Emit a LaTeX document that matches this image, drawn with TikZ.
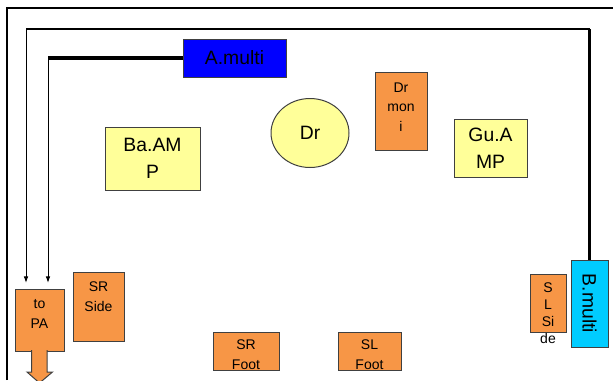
\documentclass[tikz,border=0pt]{standalone}
\usepackage{fontspec}
\setmainfont{Liberation Sans}
\usepackage{graphicx}
\usepackage{tikz}
\usetikzlibrary{arrows.meta}
\usetikzlibrary{shapes.geometric}
\tikzset{every picture/.style={line width=0.75pt}}

\definecolor{ampyellow}{RGB}{255,255,153}
\definecolor{spkorange}{RGB}{247,150,70}
\definecolor{multiblue}{RGB}{0,0,255}
\definecolor{multicyan}{RGB}{0,204,255}
\newcommand{\bigtxt}{\fontsize{14.5}{20}\selectfont}
\newcommand{\smalltxt}{\fontsize{10.5}{14.5}\selectfont}

\tikzset{
  stagebox/.style={draw=black!75, inner sep=0pt, outer sep=0pt, align=center, font=\bigtxt},
  amp/.style={stagebox, fill=ampyellow},
  spk/.style={stagebox, fill=spkorange},
  spktext/.style={anchor=north, align=center, inner xsep=0pt, outer sep=0pt, font=\smalltxt},
  cable/.style={line width=2.6pt},
  wire/.style={-{Latex[length=5pt,width=3.5pt]}, shorten >=4.5pt}
}

\begin{document}
\begin{tikzpicture}[x=0.75pt,y=0.75pt,yscale=-1,xscale=1]
\useasboundingbox (0,0) rectangle (613,380);

%Straight Lines [stage frame]
\draw [line width=1.1pt] (7,380) -- (7,8) -- (613,8) ;

%Shape: Rectangle [A.multi]
\node [stagebox, fill=multiblue, minimum width=77.25pt, minimum height=28.5pt] (amulti) at (234.5,58) {A.multi};
%Shape: Rectangle [B.multi]
\node [stagebox, fill=multicyan, minimum width=27.75pt, minimum height=65.25pt] (bmulti) at (589.5,303.5) {\rotatebox{-90}{B.multi}};
%Shape: Rectangle [Ba.AMP]
\node [amp, minimum width=71.25pt, minimum height=47.25pt] (baamp) at (152.5,158.5) {Ba.AM\\P};
%Shape: Rectangle [Gu.AMP]
\node [amp, minimum width=54.75pt, minimum height=43.5pt] (guamp) at (490.5,148) {Gu.A\\MP};
%Shape: Ellipse [Dr]
\node [amp, ellipse, minimum width=58.5pt, minimum height=51.75pt] (dr) at (310,133) {Dr};
%Shape: Rectangle [Dr moni]
\node [spk, minimum width=39pt, minimum height=58.5pt] (drmoni) at (401,111) {};
%Shape: Rectangle [SR Side]
\node [spk, minimum width=38.25pt, minimum height=51.75pt] (srside) at (98.5,306.5) {};
%Shape: Rectangle [SL Side]
\node [spk, minimum width=27pt, minimum height=43.5pt] (slside) at (548,303) {};
%Shape: Rectangle [SR Foot]
\node [spk, minimum width=49.5pt, minimum height=28.5pt] (srfoot) at (246,351) {};
%Shape: Rectangle [SL Foot]
\node [spk, minimum width=47.25pt, minimum height=28.5pt] (slfoot) at (369.5,351) {};
%Shape: Rectangle [to PA]
\node [spk, minimum width=36.75pt, minimum height=46.5pt] (topa) at (39.5,320) {};
%Shape: Down Arrow
\filldraw [draw=black!75, fill=spkorange] (31.5,350) -- (31.5,372) -- (27,372) -- (39.5,383) -- (52.5,372) -- (47,372) -- (47,350) ;

%Cables
\coordinate (aturn) at (48,58);
\coordinate (bturn) at (588,29);
\coordinate (pturn) at (26,29);
\draw [cable] (amulti.west) -- (aturn) ;
\draw [wire] (aturn) -- (aturn |- topa.north) ;
\draw [cable] (bmulti.north) -- (bmulti.north |- bturn) ;
\draw [line width=1.5pt] (bmulti.north |- bturn) -- (pturn) ;
\draw [wire] (pturn) -- (pturn |- topa.north) ;

% Text Node
\node [spktext, inner ysep=8.25pt] (drmonitxt) at (drmoni.north) {Dr\\mon\\i};
% Text Node
\node [spktext, inner ysep=7.5pt] (srsidetxt) at (srside.north) {SR\\Side};
% Text Node
\node [spktext, inner ysep=6.75pt, font=\fontsize{10.5}{12.75}\selectfont] (slsidetxt) at (slside.north) {S\\L\\Si\\de};
% Text Node
\node [spktext, inner ysep=6pt] (srfoottxt) at (srfoot.north) {SR\\Foot};
% Text Node
\node [spktext, inner ysep=6pt] (slfoottxt) at (slfoot.north) {SL\\Foot};
% Text Node
\node [spktext, inner ysep=7.5pt, font=\fontsize{10.5}{15}\selectfont] (topatxt) at (topa.north) {to\\PA};

\end{tikzpicture}
\end{document}
